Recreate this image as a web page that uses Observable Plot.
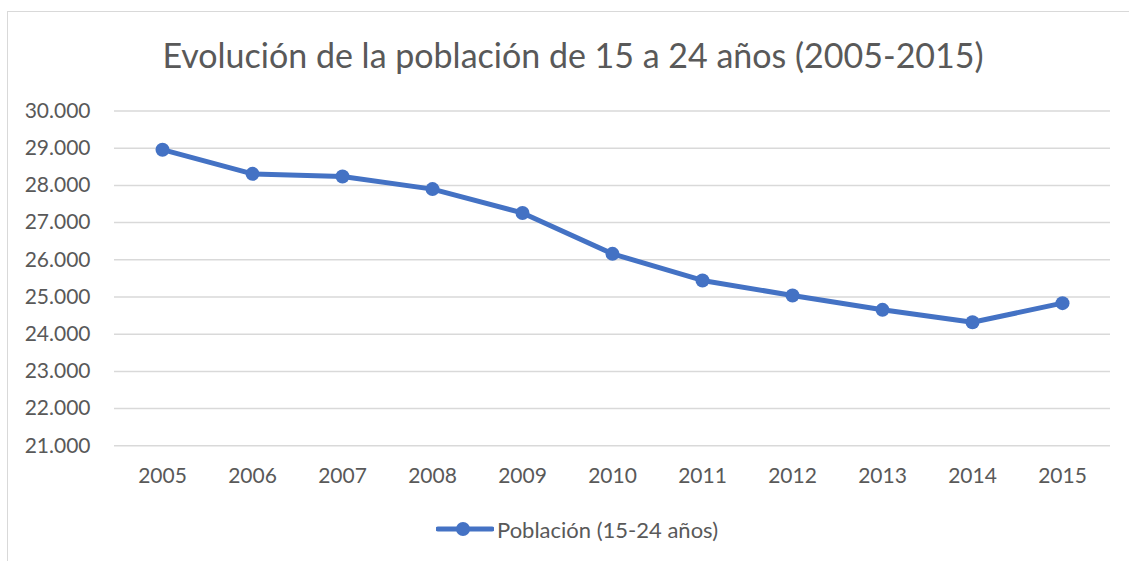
<!DOCTYPE html>
<html>
<head>
<meta charset="utf-8">
<script src="https://cdn.jsdelivr.net/npm/d3@7"></script>
<script src="https://cdn.jsdelivr.net/npm/@observablehq/plot@0.6"></script>
<style>
  html, body { margin: 0; padding: 0; background: #fff; }
  #wrap { position: relative; width: 1129px; height: 561px; overflow: hidden; font-family: Lato, "Open Sans", sans-serif; color: #595959; }
  #frame { position: absolute; left: 7px; top: 11px; width: 1200px; height: 600px; border-left: 1.5px solid #d9d9d9; border-top: 1.5px solid #d9d9d9; }
  #title { position: absolute; left: 0; top: 35px; width: 1146px; text-align: center; font-size: 34px; line-height: 40px; white-space: nowrap; }
  #chart { position: absolute; left: 0; top: 0; }
  #legend { position: absolute; left: 436px; top: 516px; height: 26px; display: flex; align-items: center; font-size: 22px; white-space: nowrap; }
  #legend svg { display: block; margin-right: 3px; }
</style>
</head>
<body>
<div id="wrap">
  <div id="frame"></div>
  <div id="chart"></div>
  <div id="title">Evolución de la población de 15 a 24 años (2005-2015)</div>
  <div id="legend"></div>
</div>
<script>
const years = ["2005", "2006", "2007", "2008", "2009", "2010", "2011", "2012", "2013", "2014", "2015"];
const poblacion = [28960, 28310, 28240, 27900, 27260, 26160, 25445, 25040, 24655, 24320, 24835];
const yTicks = [21000, 22000, 23000, 24000, 25000, 26000, 27000, 28000, 29000, 30000];
const seriesName = "Población (15-24 años)";
const blue = "#4472C4";

const data = years.map((y, i) => ({year: y, value: poblacion[i]}));
const fmt = d => d3.format(",")(d).replace(/,/g, ".");

const chart = Plot.plot({
  width: 1129,
  height: 561,
  marginTop: 110.5,
  marginBottom: 115.7,
  marginLeft: 114,
  marginRight: 19,
  style: {fontFamily: "Lato, 'Open Sans', sans-serif", fontSize: "21px", color: "#595959", background: "transparent"},
  x: {type: "point", domain: years, padding: 0.5, label: null},
  y: {domain: [21000, 30000], label: null},
  marks: [
    Plot.gridY(yTicks, {stroke: "#d9d9d9", strokeOpacity: 1, strokeWidth: 1.5}),
    Plot.axisY(yTicks, {tickSize: 0, tickPadding: 24, tickFormat: fmt, fill: "#595959", label: null}),
    Plot.axisX(years, {tickSize: 0, tickPadding: 22, fill: "#595959", label: null}),
    Plot.line(data, {x: "year", y: "value", stroke: blue, strokeWidth: 5, strokeLinejoin: "round", strokeLinecap: "round"}),
    Plot.dot(data, {x: "year", y: "value", r: 7, fill: blue, stroke: "none"})
  ]
});
document.getElementById("chart").appendChild(chart);

const legend = document.getElementById("legend");
legend.innerHTML = `<svg width="58" height="20"><line x1="2" y1="10" x2="56" y2="10" stroke="${blue}" stroke-width="5" stroke-linecap="round"/><circle cx="27" cy="10" r="7" fill="${blue}"/></svg><span>${seriesName}</span>`;
</script>
</body>
</html>
